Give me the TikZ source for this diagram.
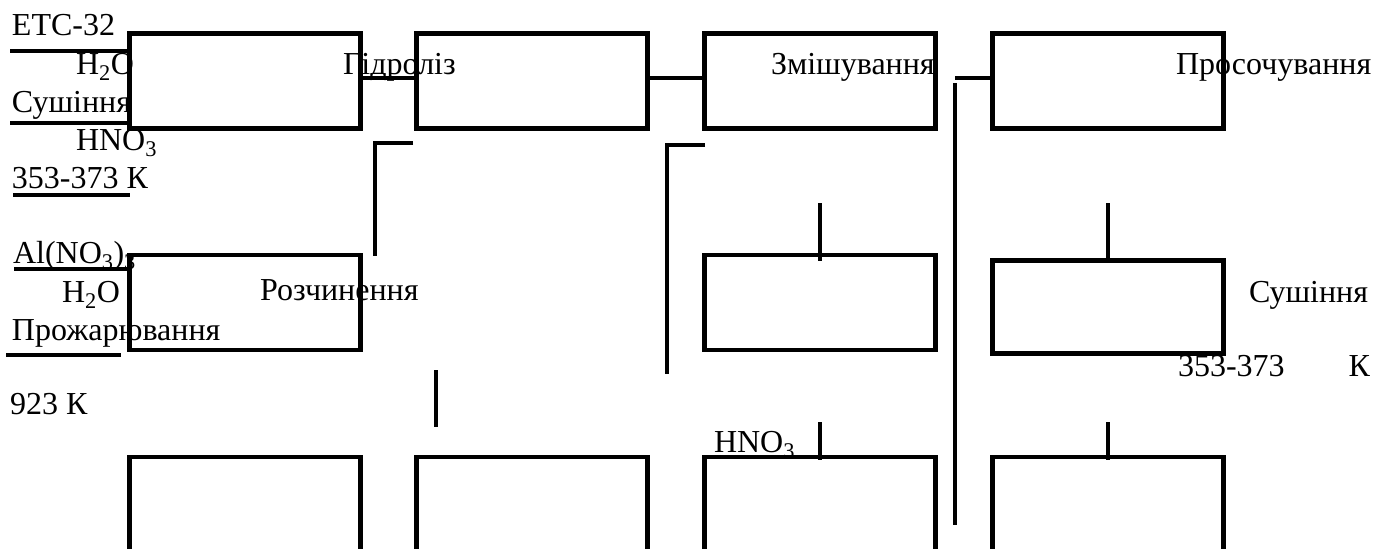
\documentclass[tikz,border=0pt]{standalone}
\usepackage{fontspec}
\setmainfont{Liberation Serif}
\usetikzlibrary{calc,positioning}

\tikzset{
  stage/.style={shape=rectangle,draw,line width=4.5pt,minimum width=231pt,minimum height=95pt,inner sep=0pt,outer sep=0pt},
  lbl/.style={anchor=base west,inner sep=0pt,outer sep=0pt,font=\fontsize{32}{38}\selectfont},
  wire/.style={line width=4pt}
}

\begin{document}
\begin{tikzpicture}[x=1pt,y=-1pt]
  \useasboundingbox (0,0) rectangle (1390,549);
  \clip (0,0) rectangle (1390,549);
  \begin{scope}
    \node(r1c1) [stage] at (245,81) {};
    \node(r1c2) [stage,right=56pt of r1c1] {};
    \node(r1c3) [stage,right=57pt of r1c2] {};
    \node(r1c4) [stage,right=57pt of r1c3] {};
    \node(r2c1) [stage,below=126.5pt of r1c1] {};
    \node(r2c3) [stage,below=126.5pt of r1c3] {};
    \node(r2c4) [stage,below=132pt of r1c4,minimum height=93pt] {};
    \node(r3c1) [stage,below=107pt of r2c1,minimum height=190pt] {};
    \node(r3c2) [stage,right=56pt of r3c1,minimum height=190pt] {};
    \node(r3c3) [stage,right=57pt of r3c2,minimum height=190pt] {};
    \node(r3c4) [stage,right=57pt of r3c3,minimum height=190pt] {};
  \end{scope}
  \begin{scope}
    \node(etc)   [lbl] at (12,35)  {ЕТС-32};
    \node(wat1)  [lbl] at (76,74)  {H\textsubscript{2}O};
    \node(dry1)  [lbl] at (12,112) {Сушіння};
    \node(acid1) [lbl] at (76,150) {HNO\textsubscript{3}};
    \node(temp1) [lbl] at (12,188) {353-373 К};
    \node(hydr)  [lbl] at (343,74) {Гідроліз};
    \node(mix)   [lbl] at (771,74) {Змішування};
    \node(perc)  [lbl] at (1176,74) {Просочування};
    \node(salt)  [lbl] at (13,263) {Al(NO\textsubscript{3})\textsubscript{3}};
    \node(wat2)  [lbl] at (62,302) {H\textsubscript{2}O};
    \node(diss)  [lbl] at (260,300) {Розчинення};
    \node(calc)  [lbl] at (12,340) {Прожарювання};
    \node(temp2) [lbl] at (10,414) {923 К};
    \node(dry2)  [lbl] at (1249,302) {Сушіння};
    \node(temp3) [lbl] at (1178,376) {\makebox[192pt][s]{353-373 К}};
    \node(acid2) [lbl] at (714,452) {HNO\textsubscript{3}};
  \end{scope}
  \coordinate (f1) at (10,51);
  \coordinate (f2) at (10,123);
  \coordinate (f3) at (13,195);
  \coordinate (f4) at (14,269);
  \coordinate (u1) at (6,355);
  \coordinate (u2) at (121,355);
  \coordinate (k1a) at (413,143);
  \coordinate (k1b) at (375,256);
  \coordinate (k2a) at (705,145);
  \coordinate (k2b) at (667,374);
  \coordinate (j) at (955,78);
  \coordinate (v1) at (955,83);
  \coordinate (v2) at (955,525);
  \coordinate (s1) at (820,203);
  \coordinate (s2) at (1108,203);
  \coordinate (s3) at (820,422);
  \coordinate (s4) at (1108,422);
  \coordinate (w1) at (436,370);
  \coordinate (w2) at (436,427);
  \draw[wire] (f1) -- (f1 -| r1c1.west)
              (f2) -- (f2 -| r1c1.west)
              (f3) -- (f3 -| r1c1.west)
              (f4) -- (f4 -| r2c1.west)
              (u1) -- (u2);
  \draw[wire] ([yshift=3pt]r1c1.east) -- ([yshift=3pt]r1c2.west)
              ([yshift=3pt]r1c2.east) -- ([yshift=3pt]r1c3.west)
              (j) -- (j -| r1c4.west)
              (v1) -- (v2);
  \draw[wire] (k1a) -| (k1b);
  \draw[wire] (k2a) -| (k2b);
  \draw[wire] (s1) -- ([yshift=-6pt]r2c3.north)
              (s2) -- (r2c4.north)
              (s3) -- ([yshift=-3pt]r3c3.north)
              (s4) -- ([yshift=-3pt]r3c4.north)
              (w1) -- (w2);
\end{tikzpicture}
\end{document}
